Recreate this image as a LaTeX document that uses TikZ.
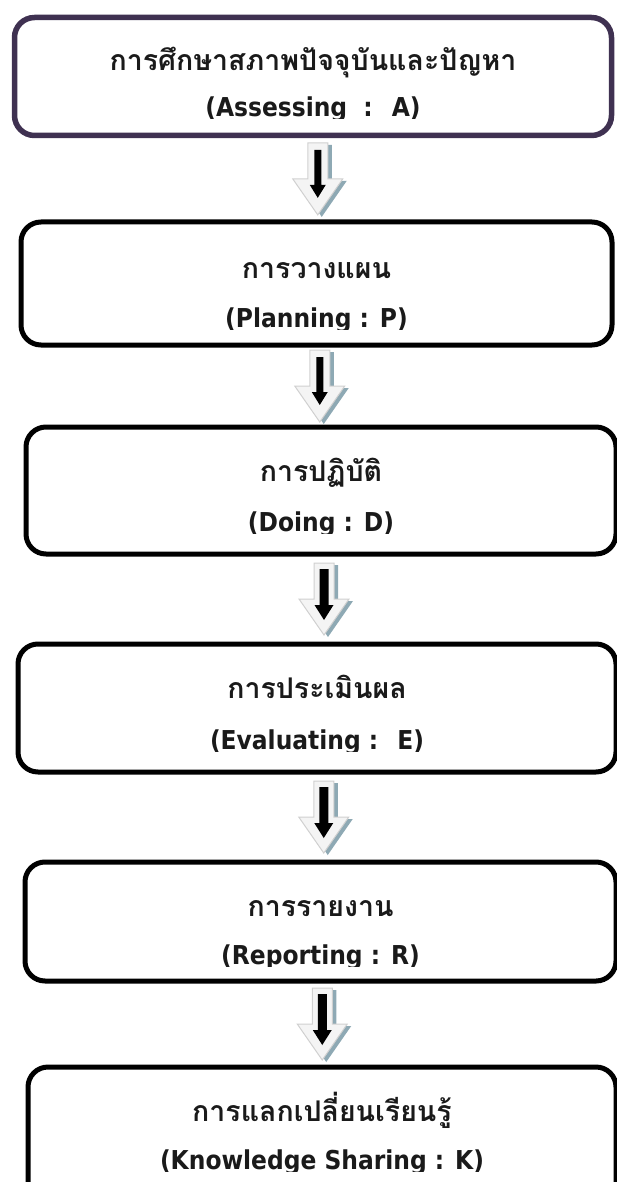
\documentclass[tikz,border=0pt]{standalone}
\usepackage{fontspec}
\usetikzlibrary{calc}
\newfontfamily\thaifont[Script=Thai]{Loma}
\newfontfamily\latinfont{DejaVu Sans Condensed}
\definecolor{boxpurple}{HTML}{3F3151}
\definecolor{arrowshadow}{HTML}{8EA9B4}
\definecolor{arrowedge}{HTML}{D0D0D0}
\definecolor{arrowface}{HTML}{F4F4F4}
\definecolor{inktext}{HTML}{1A1A1A}
\def\blockpath{(-10,-36) -- (10,-36) -- (10,0) -- (25,0) -- (0,36) -- (-25,0) -- (-10,0) -- cycle}
\def\blackpath{(-3.5,-29) -- (3.5,-29) -- (3.5,6) -- (8,6) -- (0,19) -- (-8,6) -- (-3.5,6) -- cycle}
\def\bigblackpath{(-4.5,-30) -- (4.5,-30) -- (4.5,6) -- (9.5,6) -- (0,21) -- (-9.5,6) -- (-4.5,6) -- cycle}
\newcommand\flowarrow[2]{%
  \begin{scope}[shift={(#1)}]
    \fill[arrowshadow,shift={(4,2)}] \blockpath;
    \filldraw[fill=arrowface,draw=arrowedge,line width=1pt] \blockpath;
    \fill[black] #2;
  \end{scope}}
\newcommand\stagetext[5]{% #1 box name, #2 thai baseline offset, #3 eng baseline offset, #4 thai, #5 english
  \node[thaitxt] (#1t) at ($(#1.north)+(0,#2)$) {#4};
  \coordinate (#1e) at ($(#1.north)+(0,#3)$);
  \begin{scope}
    \clip ($(#1e)+(-300,-45)$) rectangle ($(#1e)+(300,1.5)$);
    \node[engtxt] (#1en) at (#1e) {#5};
  \end{scope}}
\begin{document}
\begin{tikzpicture}[x=1pt,y=-1pt,
  stage/.style={draw=black,line width=5pt,rounded corners=20pt,fill=white,inner sep=0pt},
  thaitxt/.style={font=\thaifont\bfseries\fontsize{28.5}{32}\selectfont,text=inktext,inner sep=0pt,anchor=base},
  engtxt/.style={font=\latinfont\bfseries\fontsize{26}{30}\selectfont,text=inktext,inner sep=0pt,anchor=base}]
\useasboundingbox (0,0) rectangle (617,1182);
\clip (0,0) rectangle (617,1182);
\node[stage,draw=boxpurple,line width=5.5pt,minimum width=597pt,minimum height=118pt] (b1) at (313,76.5) {};
\node[stage,minimum width=591pt,minimum height=123pt] (b2) at (316.5,283.5) {};
\node[stage,minimum width=590pt,minimum height=127pt] (b3) at (321,490.5) {};
\node[stage,minimum width=598pt,minimum height=128pt] (b4) at (317,708) {};
\node[stage,minimum width=591pt,minimum height=119pt] (b5) at (320.5,921.5) {};
\node[stage,minimum width=588pt,minimum height=163pt] (b6) at (322,1148.5) {};
\stagetext{b1}{56}{102}{การศึกษาสภาพปัจจุบันและปัญหา}{(Assessing~ :~ A)}
\stagetext{b2}{59}{108}{การวางแผน}{(Planning : P)}
\stagetext{b3}{57}{107}{การปฏิบัติ}{(Doing : D)}
\stagetext{b4}{57}{108}{การประเมินผล}{(Evaluating :~ E)}
\stagetext{b5}{57}{105}{การรายงาน}{(Reporting : R)}
\stagetext{b6}{57}{105}{การแลกเปลี่ยนเรียนรู้}{(Knowledge Sharing : K)}
\coordinate (m1) at ($(b1.south)!0.5!(b2.north)+(3,0)$);
\coordinate (m2) at ($(b2.south)!0.5!(b3.north)+(1,0)$);
\coordinate (m3) at ($(b3.south)!0.5!(b4.north)+(5,0)$);
\coordinate (m4) at ($(b4.south)!0.5!(b5.north)+(5,0)$);
\coordinate (m5) at ($(b5.south)!0.5!(b6.north)+(1,0)$);
\flowarrow{m1}{\blackpath}
\flowarrow{m2}{\blackpath}
\flowarrow{m3}{\bigblackpath}
\flowarrow{m4}{\bigblackpath}
\flowarrow{m5}{\bigblackpath}
\end{tikzpicture}
\end{document}
